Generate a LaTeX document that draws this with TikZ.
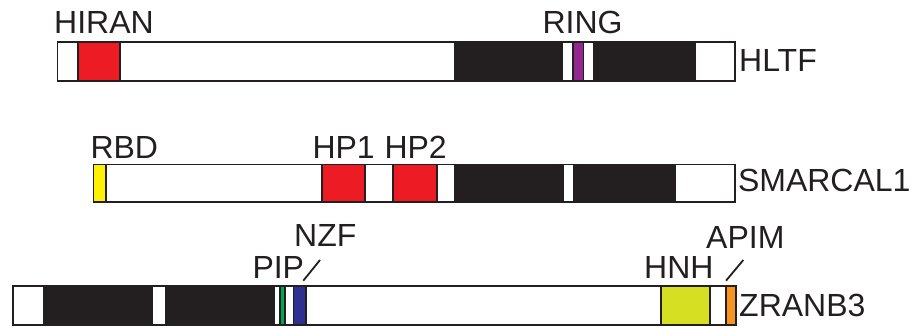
\documentclass[tikz,border=0pt]{standalone}
\usepackage{fontspec}
\setmainfont{Liberation Sans}
\definecolor{dk}{HTML}{231F20}
\definecolor{rd}{HTML}{ED1C24}
\definecolor{pu}{HTML}{92278F}
\definecolor{ye}{HTML}{FFF200}
\definecolor{yg}{HTML}{D7DF23}
\definecolor{gr}{HTML}{00A651}
\definecolor{bl}{HTML}{2E3192}
\definecolor{og}{HTML}{F7941D}
\begin{document}
\begin{tikzpicture}[x=1pt,y=-1pt,
  seg/.style={draw=dk,line width=1.6pt},
  lbl/.style={anchor=base west,inner sep=0pt,outer sep=0pt,text=dk,font=\fontsize{32}{32}\selectfont},
  tick/.style={draw=dk,line width=1.8pt}]
\useasboundingbox (0,0) rectangle (918,327);
% HLTF
\def\ya{42}\def\yb{80.7}
\foreach \a/\b/\c in {57.5/77.7/white,77.7/120/rd,120/455/white,455/561.7/dk,561.7/572.7/white,572.7/583.3/pu,583.3/594/white,594/695/dk,695/735/white}
  \filldraw[seg,fill=\c] (\a,\ya) rectangle (\b,\yb);
\node[lbl] (hiran) at (54.2,33) {HIRAN};
\node[lbl] (ring) at (542.5,33) {RING};
\node[lbl] (hltf) at (739.2,71.7) {HLTF};
% SMARCAL1
\def\ya{164.3}\def\yb{201.7}
\foreach \a/\b/\c in {93.3/106/ye,106/321.7/white,321.7/365/rd,365/392.7/white,392.7/436.7/rd,436.7/455/white,455/563/dk,563/574/white,574/675/dk,675/735/white}
  \filldraw[seg,fill=\c] (\a,\ya) rectangle (\b,\yb);
\node[lbl] (rbd) at (90.5,158) {RBD};
\node[lbl] (hp1) at (312.5,158) {HP1};
\node[lbl] (hp2) at (384.5,158) {HP2};
\node[lbl] (smarcal) at (738,191.7) {SMARCAL1};
% ZRANB3
\def\ya{286}\def\yb{325}
\foreach \a/\b/\c in {12.7/43.3/white,43.3/151.7/dk,151.7/165.7/white,165.7/274/dk,274/280/white,280/285/gr,285/293.3/white,293.3/306/bl,306/661/white,661/710/yg,710/726/white,726/736/og}
  \filldraw[seg,fill=\c] (\a,\ya) rectangle (\b,\yb);
\node[lbl] (pip) at (252.5,278.3) {PIP};
\node[lbl] (nzf) at (294.2,246.7) {NZF};
\node[lbl] (hnh) at (644.2,278.3) {HNH};
\node[lbl] (apim) at (706.2,248.3) {APIM};
\node[lbl] (zranb) at (739.2,316.7) {ZRANB3};
\coordinate (s1a) at (303.3,280.7);
\coordinate (s1b) at (320,260);
\coordinate (s2a) at (726,280.7);
\coordinate (s2b) at (743.3,260);
\draw[tick] (s1a) -- (s1b);
\draw[tick] (s2a) -- (s2b);
\end{tikzpicture}
\end{document}
